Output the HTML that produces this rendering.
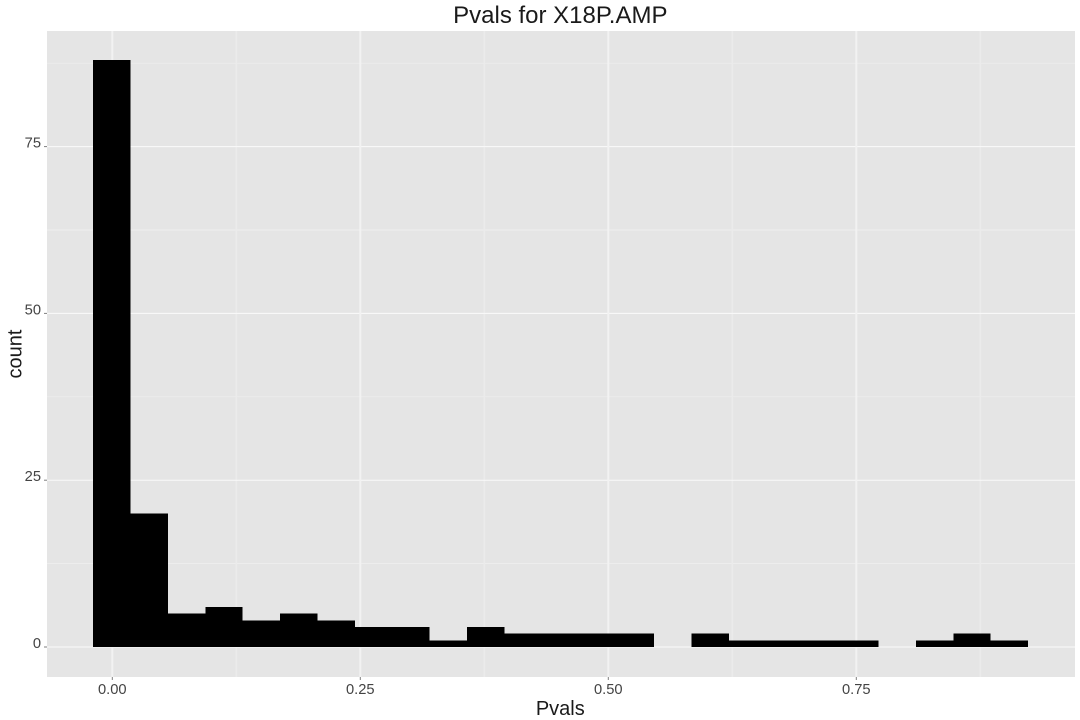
<!DOCTYPE html>
<html>
<head>
<meta charset="utf-8">
<title>Pvals for X18P.AMP</title>
<style>
html,body{margin:0;padding:0;background:#fff;}
svg{display:block;font-family:"Liberation Sans",Arial,sans-serif;}
</style>
</head>
<body>
<svg id="chart" width="1080" height="720" viewBox="0 0 1080 720" xmlns="http://www.w3.org/2000/svg">
<rect width="1080" height="720" fill="#ffffff"/>
<rect x="47" y="31" width="1028" height="646" fill="#e5e5e5"/>
<g id="grid"></g>
<g id="bars"></g>
<g id="axes"></g>
<text x="560.3" y="23" text-anchor="middle" font-size="24" fill="#1a1a1a">Pvals for X18P.AMP</text>
<text x="560.3" y="715" text-anchor="middle" font-size="20" fill="#1a1a1a">Pvals</text>
<text transform="translate(21.5,354) rotate(-90)" text-anchor="middle" font-size="20" fill="#1a1a1a">count</text>
</svg>
<script>
const counts = [88,20,5,6,4,5,4,3,3,1,3,2,2,2,2,0,2,1,1,1,1,0,1,2,1];
const binStart = -0.0193;
const binWidth = 0.0377;
const xTicks = [0, 0.25, 0.5, 0.75];
const xTickLabels = ['0.00', '0.25', '0.50', '0.75'];
const xMinor = [0.125, 0.375, 0.625, 0.875];
const yTicks = [0, 25, 50, 75];
const yTickLabels = ['0', '25', '50', '75'];
const yMinor = [12.5, 37.5, 62.5, 87.5];

const NS = 'http://www.w3.org/2000/svg';
const panel = {left: 47, right: 1075, top: 31, bottom: 677};
function xScale(v) { return 112.3 + v * 992; }
function yScale(v) { return 647 - v * 6.672; }
function mk(parent, tag, attrs, text) {
  const el = document.createElementNS(NS, tag);
  for (const k in attrs) el.setAttribute(k, attrs[k]);
  if (text !== undefined) el.textContent = text;
  parent.appendChild(el);
  return el;
}
const grid = document.getElementById('grid');
const barsG = document.getElementById('bars');
const axes = document.getElementById('axes');

yMinor.forEach(function (v) {
  const l = mk(grid, 'line', {x1: panel.left, x2: panel.right, y1: yScale(v), y2: yScale(v), stroke: '#f0f0f0', 'stroke-width': 0.7});
  
  
});
xMinor.forEach(function (v) {
  const l = mk(grid, 'line', {x1: xScale(v), x2: xScale(v), y1: panel.top, y2: panel.bottom, stroke: '#ebebeb', 'stroke-width': 1.6});
  
  
});
yTicks.forEach(function (v) {
  const l = mk(grid, 'line', {x1: panel.left, x2: panel.right, y1: yScale(v), y2: yScale(v), stroke: '#fafafa', 'stroke-width': 1});
  
  
});
xTicks.forEach(function (v) {
  const l = mk(grid, 'line', {x1: xScale(v), x2: xScale(v), y1: panel.top, y2: panel.bottom, stroke: '#f2f2f2', 'stroke-width': 2});
  
  
});

counts.forEach(function (c, i) {
  if (c <= 0) return;
  const x0 = xScale(binStart + i * binWidth);
  const x1 = xScale(binStart + (i + 1) * binWidth);
  const r = mk(barsG, 'rect', {x: x0, y: yScale(c), width: x1 - x0, height: yScale(0) - yScale(c), fill: '#000000', 'shape-rendering': 'crispEdges'});
  
  
});

xTicks.forEach(function (v, i) {
  const t = mk(axes, 'line', {x1: xScale(v), x2: xScale(v), y1: panel.bottom, y2: panel.bottom + 3, stroke: '#7f7f7f', 'stroke-width': 1});
  
  
  const lab = mk(axes, 'text', {x: xScale(v), y: 694, 'text-anchor': 'middle', 'font-size': 14.7, fill: '#444444'}, xTickLabels[i]);
  
  
});
yTicks.forEach(function (v, i) {
  const t = mk(axes, 'line', {x1: panel.left - 3, x2: panel.left, y1: yScale(v), y2: yScale(v), stroke: '#7f7f7f', 'stroke-width': 1});
  
  
  const lab = mk(axes, 'text', {x: 41, y: yScale(v) + 1, 'text-anchor': 'end', 'font-size': 14.7, fill: '#444444'}, yTickLabels[i]);
  
  
});
</script>
</body>
</html>
